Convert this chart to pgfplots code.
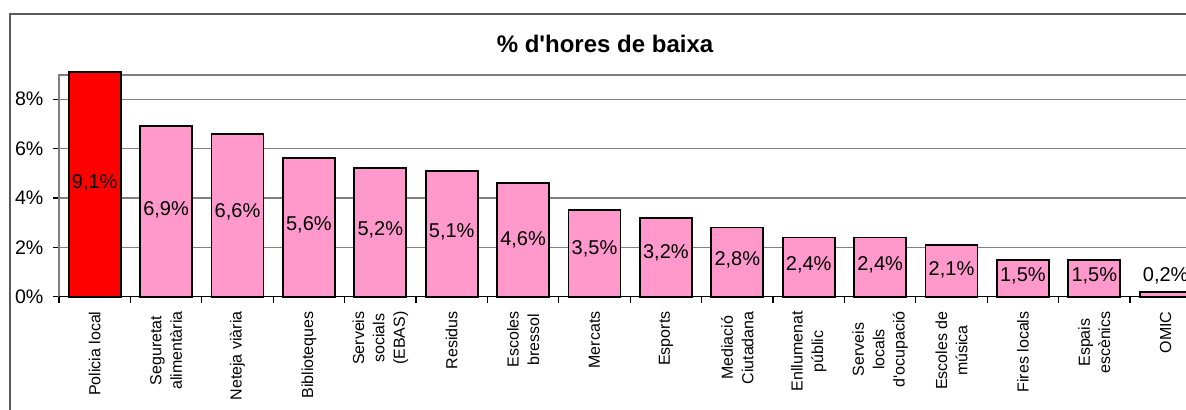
\documentclass[border=0pt]{standalone}
\usepackage{fontspec}
\setmainfont{Liberation Sans}[Ligatures=TeXOff]
\usepackage{pgfplots}
\pgfplotsset{compat=1.18}
\definecolor{barpink}{RGB}{255,153,204}
\definecolor{gridgray}{RGB}{128,128,128}
\definecolor{framegray}{RGB}{90,90,90}
\begin{document}
\begin{tikzpicture}
\path[use as bounding box] (0,0) rectangle (593pt,205pt);
\clip (0,0) rectangle (593pt,205pt);
\draw[framegray, line width=0.7pt] (5pt,-10pt) -- (5pt,198pt) -- (610pt,198pt);
\node[font=\fontsize{12}{14}\bfseries\selectfont, anchor=base, inner sep=0pt] at (302.5pt,178.85pt) {\% d'hores de baixa};
\begin{axis}[
  at={(29.5pt,56.65pt)}, anchor=south west,
  scale only axis, width=571.2pt, height=110.85pt,
  xmin=-0.5, xmax=15.5, ymin=0, ymax=8.976,
  clip=false,
  /pgf/number format/assume math mode=true,
  axis line style={gridgray, line width=0.6pt},
  ytick={0,2,4,6,8},
  yticklabel={\pgfmathprintnumber{\tick}\%},
  yticklabel style={font=\fontsize{9.8}{11}\selectfont, anchor=east, inner sep=0pt, xshift=-4.6pt},
  ymajorgrids, grid style={gridgray, line width=0.6pt},
  tick align=outside,
  xtick pos=left, ytick pos=left,
  major tick length=3pt,
  minor tick length=3pt,
  ytick style={black, line width=0.6pt},
  xtick={0,...,15},
  major x tick style={draw=none},
  minor xtick={-0.5,0.5,...,15.5},
  minor x tick style={black, line width=0.6pt},
  xticklabels={Policia local, {Seguretat\\alimentària}, Neteja viària, Biblioteques, {Serveis\\socials\\(EBAS)}, Residus, {Escoles\\bressol}, Mercats, Esports, {Mediació\\Ciutadana}, {Enllumenat\\públic}, {Serveis\\locals\\d'ocupació}, {Escoles de\\música}, Fires locals, {Espais\\escènics}, OMIC},
  xticklabel style={yshift=-4.2pt, rotate=90, anchor=east, align=center, inner sep=0pt, font=\fontsize{8}{10.2}\selectfont},
]
\addplot[ybar, bar width=26pt, bar shift=0pt, fill=red, draw=black, line width=0.9pt] coordinates {(0,9.1)};
\addplot[ybar, bar width=26pt, bar shift=0pt, fill=barpink, draw=black, line width=0.9pt] coordinates {
(1,6.9) (2,6.6) (3,5.6) (4,5.2) (5,5.1) (6,4.6) (7,3.5) (8,3.2) (9,2.8) (10,2.4) (11,2.4) (12,2.1) (13,1.5) (14,1.5) (15,0.2)};
\addplot[draw=none, mark=none, nodes near coords={\pgfmathprintnumber[fixed, fixed zerofill, precision=1, use comma]{\pgfplotspointmeta}\%}, point meta=explicit, nodes near coords style={anchor=center, inner sep=0pt, font=\fontsize{10}{12}\selectfont}] table[x=x, y=ly, meta=v] {
x ly v
0 4.6 9.1
1 3.5 6.9
2 3.43 6.6
3 2.9 5.6
4 2.69 5.2
5 2.63 5.1
6 2.3 4.6
7 1.94 3.5
8 1.79 3.2
9 1.49 2.8
10 1.3 2.4
11 1.3 2.4
12 1.08 2.1
13 0.86 1.5
14 0.86 1.5
15 0.86 0.2
};
\draw[black, line width=0.8pt] (axis cs:-0.5,0) -- (axis cs:15.5,0);
\end{axis}
\end{tikzpicture}
\end{document}
